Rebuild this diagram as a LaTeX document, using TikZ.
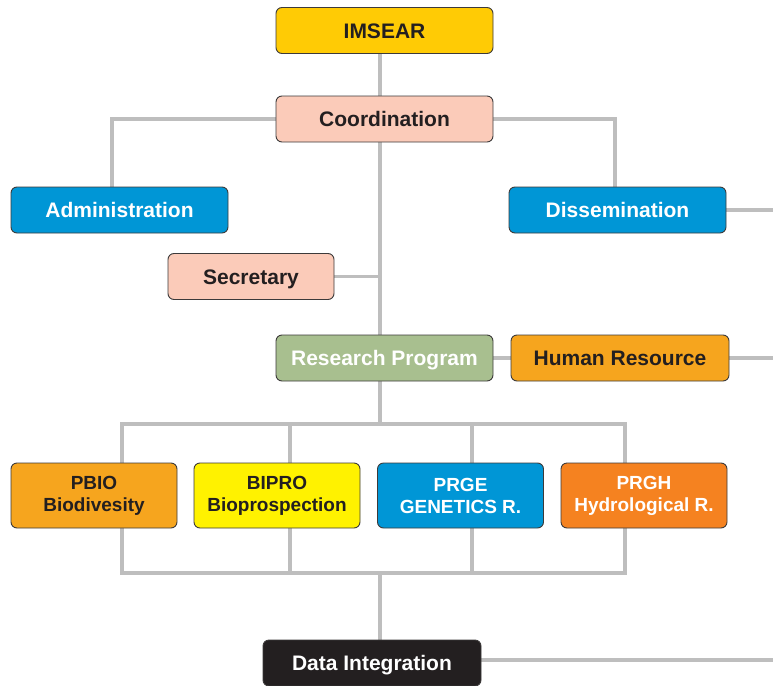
\documentclass[tikz,border=0pt]{standalone}
\usepackage{fontspec}
\setmainfont{Liberation Sans}
\usetikzlibrary{backgrounds}

\definecolor{ink}{HTML}{231F20}
\definecolor{boxline}{HTML}{3C3A3A}
\definecolor{linkgray}{HTML}{BEBEBE}
\definecolor{gold}{HTML}{FFCB05}
\definecolor{salmon}{HTML}{FBCBB9}
\definecolor{sky}{HTML}{0096D6}
\definecolor{sage}{HTML}{A8BF8F}
\definecolor{amber}{HTML}{F6A51E}
\definecolor{lemon}{HTML}{FFF200}
\definecolor{tangerine}{HTML}{F58220}

\begin{document}
\begin{tikzpicture}[x=1pt,y=-1pt,
  box/.style={draw=boxline, line width=0.9pt, rounded corners=6pt,
    minimum width=217pt, minimum height=46pt, inner sep=0pt,
    text height=15.5pt, text depth=0.5pt,
    text=ink, font=\bfseries\fontsize{21}{25}\selectfont},
  prog/.style={box, minimum width=166pt, minimum height=65pt, align=center,
    text height={}, text depth={},
    font=\bfseries\fontsize{19}{22}\selectfont},
  link/.style={draw=linkgray, line width=3.5pt}]

\useasboundingbox (0,0) rectangle (773,685);

% Top of the chart
\node[box, fill=gold] (imsear) at (384.5,30.5) {IMSEAR};
\node[box, fill=salmon] (coord) at (384.5,119) {Coordination};
\node[box, fill=sky, text=white] (admin) at (119.5,210) {Administration};
\node[box, fill=sky, text=white] (diss) at (617.5,210) {Dissemination};
\node[box, fill=salmon, minimum width=166pt] (sec) at (251,276.5) {Secretary};
\node[box, fill=sage, text=white] (research) at (384.5,358) {Research Program};
\node[box, fill=amber, minimum width=218pt] (hr) at (620,358) {Human Resource};

% Programs
\node[prog, fill=amber] (pbio) at (94,495.5) {PBIO\\Biodivesity};
\node[prog, fill=lemon] (bipro) at (277,495.5) {BIPRO\\Bioprospection};
\node[prog, fill=sky, text=white] (prge) at (460.5,495.5) {PRGE\\GENETICS R.};
\node[prog, fill=tangerine, text=white] (prgh) at (644,495.5) {PRGH\\Hydrological R.};

% Bottom
\node[box, fill=ink, text=white, minimum width=218pt] (data) at (372,663) {Data Integration};

% Helper points
\coordinate (trunk) at (380,0);
\coordinate (edge) at (773,0);
\coordinate (busTL) at (122,424);
\coordinate (busBR) at (625,573);

% Connectors
\begin{scope}[on background layer]
\draw[link] (imsear.south -| trunk) -- (research.north -| trunk);
\draw[link] (coord.west) -| ([xshift=-7.5pt]admin.north);
\draw[link] (coord.east) -| ([xshift=-2.5pt]diss.north);
\draw[link] (sec.east) -- (sec.east -| trunk);
\draw[link] (diss.east) -- (diss.east -| edge);
\draw[link] (research.east) -- (hr.west);
\draw[link] (hr.east) -- (hr.east -| edge);
\draw[link] (research.south -| trunk) -- (busTL -| trunk);
\draw[link] (busTL) rectangle (busBR);
\foreach \n/\dx in {bipro/13,prge/11.5}
  \draw[link] ([xshift=\dx pt]\n.center |- busTL) -- ([xshift=\dx pt]\n.center |- busBR);
\draw[link] (busBR -| trunk) -- (data.north -| trunk);
\draw[link] ([yshift=3pt]data.east) -- ([yshift=3pt]data.east -| edge);
\end{scope}

\end{tikzpicture}
\end{document}
